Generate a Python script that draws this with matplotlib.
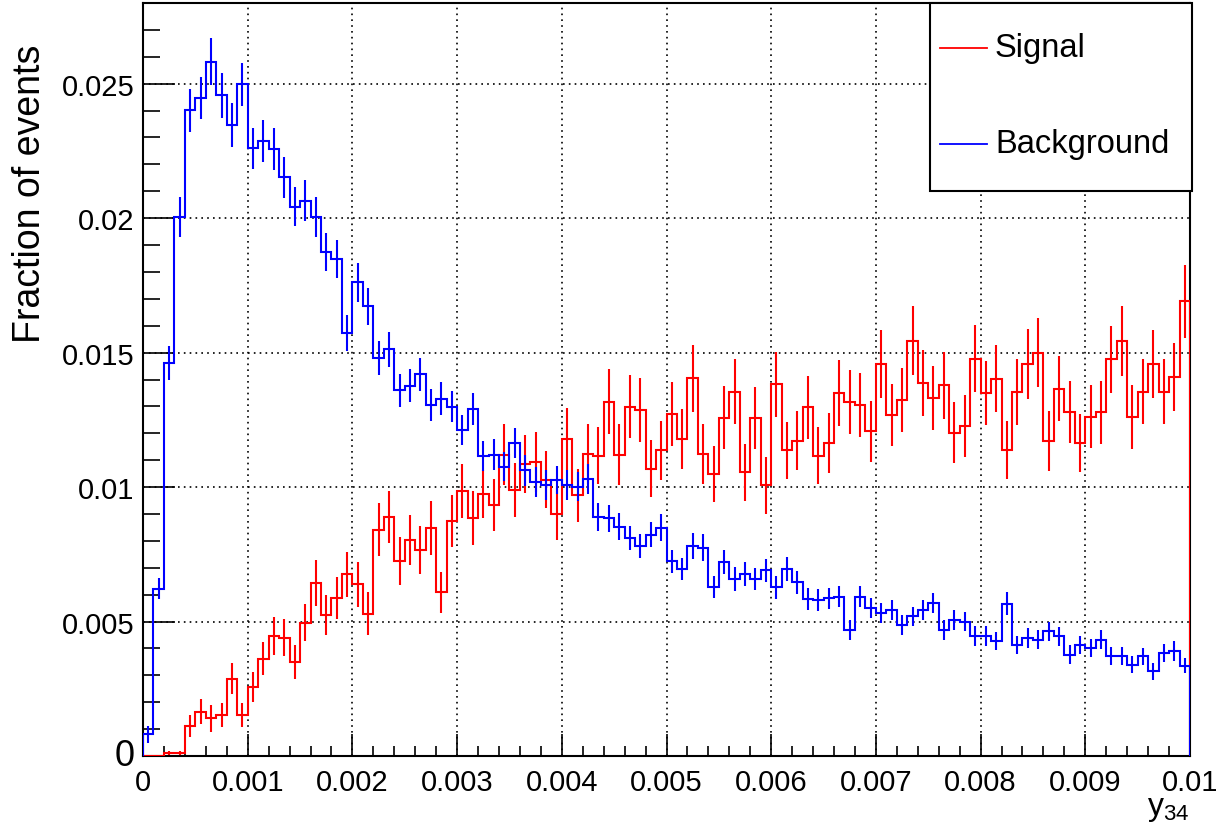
import numpy as np
import matplotlib
matplotlib.use('Agg')
import matplotlib.pyplot as plt
from matplotlib.patches import Rectangle
from matplotlib.lines import Line2D

plt.rcParams['font.family'] = ['Liberation Sans', 'DejaVu Sans']

# binning of the y34 histogram
x_min = 0.0
x_max = 0.01
n_bins = 100

signal = [0, 0, 0.0001, 0.0001, 0.0011, 0.00165, 0.0014, 0.00153, 0.00287, 0.00153,
          0.00257, 0.00362, 0.00447, 0.0044, 0.0035, 0.00496, 0.00643,
          0.00523, 0.00588, 0.00675, 0.00638, 0.00529, 0.00842, 0.00889, 0.00724,
          0.00805, 0.00767, 0.00848, 0.00609, 0.00873, 0.00984, 0.00885, 0.00975,
          0.00933, 0.01121, 0.00988, 0.01086, 0.01092, 0.01028, 0.00899, 0.01179,
          0.00969, 0.01123, 0.01117, 0.01318, 0.01121, 0.01299, 0.01287, 0.01069,
          0.01136, 0.01271, 0.0118, 0.01405, 0.01123, 0.01049, 0.01258, 0.01355,
          0.01056, 0.01258, 0.01006, 0.01383, 0.01136, 0.01173, 0.01296, 0.01117, 0.01165,
          0.01349, 0.01316, 0.01305, 0.01207, 0.01459, 0.01269, 0.01325, 0.01545,
          0.01386, 0.01331, 0.01378, 0.01202, 0.01227, 0.01478, 0.01349, 0.01403,
          0.01138, 0.01354, 0.01457, 0.015, 0.0117, 0.01366, 0.01279, 0.01164, 0.01261,
          0.01279, 0.01475, 0.01543, 0.01261, 0.01354, 0.01457, 0.01354, 0.01409, 0.01691]

signal_err = [0, 0, 0.00008, 0.00008, 0.00041, 0.00046, 0.0005, 0.00044, 0.00057, 0.00044,
              0.00056, 0.00061, 0.0007, 0.0007, 0.00063, 0.0007, 0.00087,
              0.00074, 0.00077, 0.00083, 0.00083, 0.00079, 0.00097, 0.00098, 0.0009,
              0.00093, 0.0009, 0.00099, 0.00077, 0.00096, 0.001, 0.00099, 0.0009,
              0.00098, 0.00113, 0.00101, 0.00108, 0.00111, 0.00107, 0.00097, 0.00114,
              0.00098, 0.00112, 0.00106, 0.00122, 0.00112, 0.00118, 0.00118, 0.00105,
              0.00109, 0.0012, 0.00112, 0.00125, 0.00113, 0.00104, 0.00117, 0.00121,
              0.00106, 0.00115, 0.00106, 0.00121, 0.00106, 0.00109, 0.00118, 0.00107, 0.00112,
              0.00122, 0.00119, 0.00118, 0.00112, 0.00126, 0.00115, 0.00119, 0.0013,
              0.00122, 0.00118, 0.00125, 0.00113, 0.00115, 0.00126, 0.00119, 0.00124,
              0.00108, 0.00122, 0.00129, 0.00127, 0.00112, 0.00122, 0.00116, 0.00109, 0.00117,
              0.00117, 0.00124, 0.00131, 0.00118, 0.00121, 0.00126, 0.00121, 0.00125, 0.00136]

background = [0.0008, 0.00622, 0.01462, 0.02005, 0.02401, 0.02448, 0.02582, 0.02457, 0.02347,
              0.02497, 0.0226, 0.02288, 0.02257, 0.02152, 0.02043, 0.02065, 0.02005,
              0.01873, 0.01848, 0.01572, 0.01761, 0.01672, 0.01479, 0.01512, 0.0136,
              0.01377, 0.01419, 0.01304, 0.01328, 0.01299, 0.01211, 0.01291, 0.01116,
              0.01121, 0.01075, 0.01164, 0.01062, 0.01018, 0.01007, 0.01025, 0.01007,
              0.01002, 0.01031, 0.00889, 0.00884, 0.00853, 0.0081, 0.0078, 0.00823,
              0.00849, 0.00724, 0.00696, 0.0078, 0.00774, 0.00627, 0.00721, 0.00658,
              0.00677, 0.00658, 0.0069, 0.00627, 0.00696, 0.00646, 0.00584, 0.00581, 0.00586,
              0.00593, 0.00469, 0.00593, 0.0055, 0.00532, 0.00543, 0.00488, 0.00519,
              0.00543, 0.00568, 0.00469, 0.00506, 0.005, 0.00445, 0.00445, 0.00428,
              0.00567, 0.00414, 0.00439, 0.00433, 0.00464, 0.00445, 0.00377, 0.00414, 0.00402,
              0.00433, 0.00371, 0.00371, 0.0034, 0.00371, 0.00315, 0.00383, 0.0039, 0.00336]

background_err = [0.0003, 0.0004, 0.00063, 0.00075, 0.0008, 0.00078, 0.00087, 0.00083, 0.00082,
                  0.0008, 0.00077, 0.00078, 0.00078, 0.00077, 0.00074, 0.00075, 0.00074,
                  0.00071, 0.00072, 0.00067, 0.00073, 0.00068, 0.00064, 0.00066, 0.00061,
                  0.00061, 0.00062, 0.00059, 0.00061, 0.00057, 0.00056, 0.0006, 0.00057,
                  0.00059, 0.00054, 0.00057, 0.00057, 0.00055, 0.00056, 0.00052, 0.00055,
                  0.00055, 0.00055, 0.00051, 0.00051, 0.00051, 0.00044, 0.00044, 0.00047,
                  0.0005, 0.00042, 0.00042, 0.00048, 0.0005, 0.00041, 0.00045, 0.00044,
                  0.00045, 0.00041, 0.00044, 0.00042, 0.00044, 0.00043, 0.00041, 0.00041, 0.0004,
                  0.00038, 0.00036, 0.00039, 0.00038, 0.00037, 0.00036, 0.00037, 0.00036,
                  0.00036, 0.00037, 0.00036, 0.00037, 0.00037, 0.00037, 0.00037, 0.00032,
                  0.00041, 0.00034, 0.00036, 0.00036, 0.00036, 0.00036, 0.00034, 0.00034, 0.00034,
                  0.00035, 0.00033, 0.00033, 0.00031, 0.00032, 0.00032, 0.00034, 0.00037, 0.00029]

x_ticks = [0, 0.001, 0.002, 0.003, 0.004, 0.005, 0.006, 0.007, 0.008, 0.009, 0.01]
x_labels = ['0', '0.001', '0.002', '0.003', '0.004', '0.005', '0.006', '0.007', '0.008', '0.009', '0.01']
y_ticks = [0, 0.005, 0.01, 0.015, 0.02, 0.025]
y_labels = ['0', '0.005', '0.01', '0.015', '0.02', '0.025']

edges = np.linspace(x_min, x_max, n_bins + 1)
centers = 0.5 * (edges[:-1] + edges[1:])

fig = plt.figure(figsize=(12.25, 8.29), dpi=100)
ax = fig.add_axes([143 / 1225, 1 - 757 / 829, (1190 - 143) / 1225, (757 - 4) / 829])

ax.stairs(signal, edges, color='#ff0000', lw=1.5, zorder=3)
ax.errorbar(centers, signal, yerr=signal_err, fmt='none', ecolor='#ff0000', elinewidth=1.5, zorder=3)
ax.stairs(background, edges, color='#0000ff', lw=1.5, zorder=4)
ax.errorbar(centers, background, yerr=background_err, fmt='none', ecolor='#0000ff', elinewidth=1.5, zorder=4)

ax.set_xlim(x_min, x_max)
ax.set_ylim(0, 0.028)
ax.set_xticks(x_ticks)
ax.set_xticklabels(x_labels)
ax.set_yticks(y_ticks)
ax.set_yticklabels(y_labels)
ax.set_xticks(np.arange(0, 0.01001, 0.0002), minor=True)
ax.set_yticks(np.arange(0, 0.0281, 0.001), minor=True)
ax.tick_params(which='both', direction='in', width=1.2, top=False, right=False)
ax.tick_params(axis='y', which='major', length=23, labelsize=21, pad=6)
ax.tick_params(axis='y', which='minor', length=12)
ax.tick_params(axis='x', which='major', length=16, labelsize=21, pad=9)
ax.tick_params(axis='x', which='minor', length=7.5)
ax.grid(True, which='major', color='black', linestyle=(0, (1, 2.5)), linewidth=1.2)
for s in ax.spines.values():
    s.set_linewidth(1.5)

# ROOT draws the zero of the y axis a bit bigger
zero_lab = ax.get_yticklabels()[0]
zero_lab.set_fontsize(26)
zero_lab.set_va('center')

fig.text(30 / 1225, 1 - 45 / 829, 'Fraction of events', rotation=90, fontsize=27,
         ha='center', va='top')
fig.text(1190 / 1225, 1 - 824 / 829, r'$\mathregular{y_{34}}$', fontsize=23, ha='right', va='bottom')

# legend box, ROOT style
fig.patches.append(Rectangle((930 / 1225, 1 - 192 / 829), (1192 - 930) / 1225, (192 - 4) / 829,
                             transform=fig.transFigure, facecolor='white', edgecolor='black',
                             lw=1.5, zorder=10))
for y_px, col, name in [(49, '#ff0000', 'Signal'), (145, '#0000ff', 'Background')]:
    fig.lines.append(Line2D([940 / 1225, 987 / 1225], [1 - y_px / 829] * 2, color=col, lw=1.3,
                            transform=fig.transFigure, zorder=11))
    fig.text(995 / 1225, 1 - y_px / 829, name, fontsize=23.5, ha='left', va='center', zorder=12)

fig.savefig('out.png', dpi=100)
